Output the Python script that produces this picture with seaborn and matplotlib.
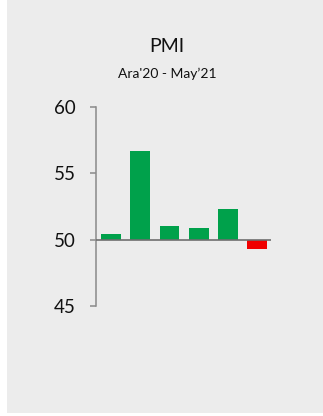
import numpy as np
import pandas as pd
import matplotlib
matplotlib.use('Agg')
import matplotlib.pyplot as plt
import seaborn as sns
from matplotlib.patches import Rectangle
from matplotlib.ticker import FuncFormatter

# PMI values, Ara'20 - May'21
months = ['Ara20', 'Oca21', 'Şub21', 'Mar21', 'Nis21', 'May21']
pmi = [50.4, 56.7, 51.0, 50.9, 52.3, 49.3]
threshold = 50
yticks = [45, 50, 55, 60]

df = pd.DataFrame({'month': months, 'pmi': pmi})
df['diff'] = df['pmi'] - threshold

sns.set_style('white')
plt.rcParams['font.family'] = ['Lato', 'DejaVu Sans']

fig = plt.figure(figsize=(3.23, 4.16), dpi=100)
fig.patch.set_facecolor('white')
fig.patches.append(Rectangle((7 / 323, 3 / 416), 316 / 323, 413 / 416,
                             transform=fig.transFigure, facecolor='#ececec',
                             edgecolor='none', zorder=-10))

ax = fig.add_axes([96 / 323, 110 / 416, 175 / 323, 199.3 / 416])
ax.set_facecolor('none')
ax.set_zorder(1)

colors = ['#00a14b' if d >= 0 else '#f00000' for d in df['diff']]
sns.barplot(data=df, x='month', y='diff', hue='month', palette=colors,
            saturation=1, legend=False, width=0.68, edgecolor='none', ax=ax)

ax.axhline(0, color='#6e6e6e', lw=1.2, zorder=3)
ax.set_xlim(-0.52, 5.48)
ax.set_ylim(yticks[0] - threshold, yticks[-1] - threshold)
ax.set_yticks([t - threshold for t in yticks])
ax.yaxis.set_major_formatter(FuncFormatter(lambda v, p: f'{v + threshold:.0f}'))
ax.set_xticks([])
ax.set_xlabel('')
ax.set_ylabel('')

sns.despine(ax=ax, bottom=True)
ax.spines['left'].set_color('#8a8a8a')
ax.spines['left'].set_linewidth(1.1)
ax.tick_params(axis='y', length=4.5, width=1.1, color='#8a8a8a', pad=10,
               labelsize=13.5, labelcolor='#111111', left=True)

fig.text(167 / 323, 1 - 47 / 416, 'PMI', ha='center', va='center',
         fontsize=14, color='#111111')
fig.text(167 / 323, 1 - 73.5 / 416, "Ara'20 - May\u201921", ha='center',
         va='center', fontsize=10, color='#111111')

fig.savefig('out.png', dpi=100)
